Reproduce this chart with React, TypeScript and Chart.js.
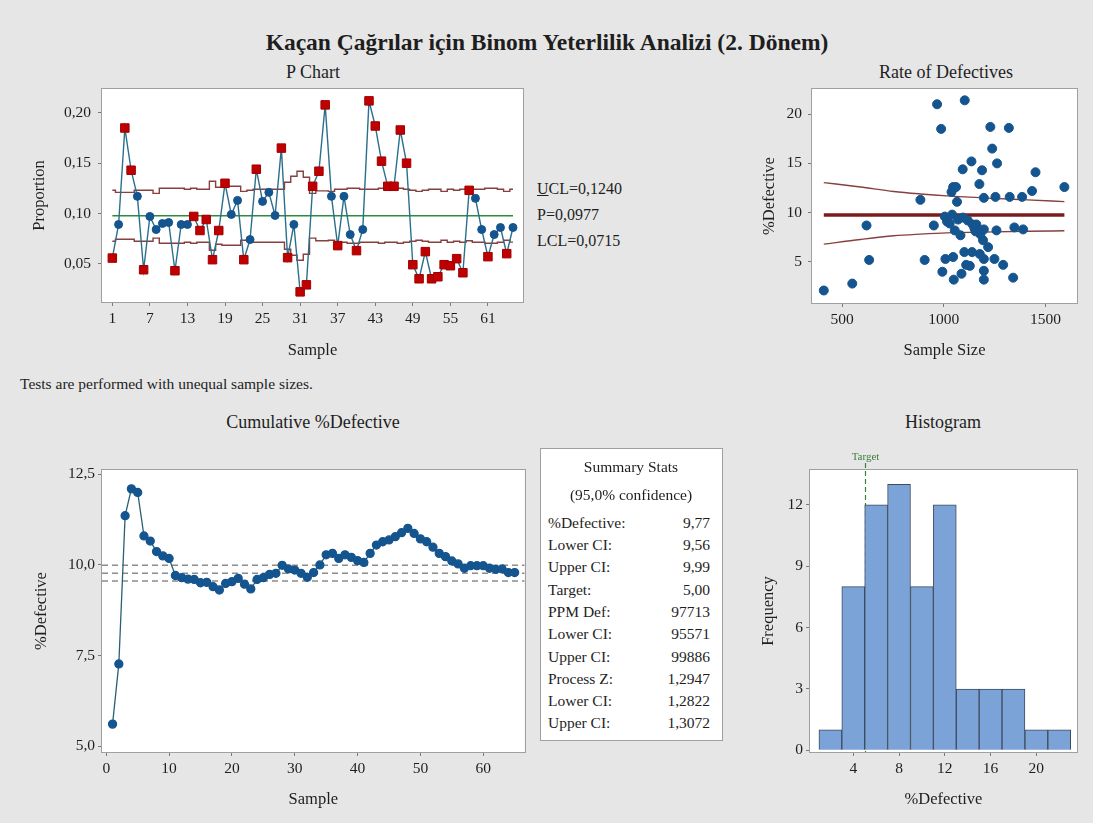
import React, { useEffect, useRef } from "react";
import { Chart, registerables } from "chart.js";

Chart.register(...registerables);

const SERIF = "'Liberation Serif', 'Times New Roman', Times, serif";
const TEXT = "#1e1e1e";

// ---------- P chart ----------
const pValues = [
  0.0556, 0.089, 0.185, 0.143, 0.117, 0.044, 0.097, 0.084, 0.09, 0.091,
  0.043, 0.089, 0.089, 0.097, 0.083, 0.094, 0.054, 0.083, 0.13, 0.099,
  0.113, 0.054, 0.074, 0.144, 0.112, 0.121, 0.098, 0.165, 0.056, 0.089,
  0.022, 0.029, 0.127, 0.142, 0.208, 0.117, 0.068, 0.117, 0.079, 0.063,
  0.084, 0.212, 0.187, 0.152, 0.127, 0.127, 0.183, 0.15, 0.049, 0.035,
  0.062, 0.035, 0.037, 0.049, 0.048, 0.055, 0.041, 0.123, 0.115, 0.084,
  0.057, 0.079, 0.086, 0.06, 0.086,
];
const uclValues = [
  0.123, 0.121, 0.121, 0.121, 0.123, 0.123, 0.123, 0.12, 0.125, 0.125,
  0.125, 0.125, 0.124, 0.125, 0.124, 0.124, 0.132, 0.126, 0.127, 0.127,
  0.127, 0.122, 0.123, 0.124, 0.124, 0.124, 0.124, 0.124, 0.131, 0.137,
  0.142, 0.136, 0.12, 0.1225, 0.1225, 0.122, 0.124, 0.124, 0.125, 0.125,
  0.124, 0.124, 0.124, 0.125, 0.124, 0.124, 0.125, 0.124, 0.123, 0.122,
  0.123, 0.124, 0.124, 0.122, 0.124, 0.123, 0.124, 0.1225, 0.124, 0.124,
  0.125, 0.125, 0.124, 0.122, 0.124,
];
const lclValues = [
  0.0724, 0.0744, 0.0744, 0.0744, 0.0724, 0.0724, 0.0724, 0.0754, 0.0704, 0.0704,
  0.0704, 0.0704, 0.0714, 0.0704, 0.0714, 0.0714, 0.0634, 0.0694, 0.0684, 0.0684,
  0.0684, 0.0734, 0.0724, 0.0714, 0.0714, 0.0714, 0.0714, 0.0714, 0.0644, 0.0584,
  0.0534, 0.0594, 0.0754, 0.0729, 0.0729, 0.0734, 0.0714, 0.0714, 0.0704, 0.0704,
  0.0714, 0.0714, 0.0714, 0.0704, 0.0714, 0.0714, 0.0704, 0.0714, 0.0724, 0.0734,
  0.0724, 0.0714, 0.0714, 0.0734, 0.0714, 0.0724, 0.0714, 0.0729, 0.0714, 0.0714,
  0.0704, 0.0704, 0.0714, 0.0734, 0.0715,
];
const flaggedSamples = [
  1, 3, 4, 6, 11, 14, 15, 16, 17, 18, 19, 22, 24, 28, 29, 31, 32, 33, 34, 35,
  37, 40, 42, 43, 44, 45, 46, 47, 48, 49, 50, 51, 52, 53, 54, 55, 56, 57, 58, 61, 64,
];
const pBar = 0.0977;
const pYTicks = [0.05, 0.1, 0.15, 0.2];
const sampleTicks = [1, 7, 13, 19, 25, 31, 37, 43, 49, 55, 61];
const samples = pValues.map((_, i) => i + 1);

// ---------- Rate of defectives ----------
const rateN = [
  410, 550, 620, 633, 885, 906, 951, 967, 987, 993, 1005, 1008, 1016, 1029, 1038,
  1041, 1046, 1049, 1046, 1060, 1054, 1065, 1082, 1087, 1093, 1095, 1103, 1101,
  1110, 1118, 1128, 1136, 1139, 1142, 1151, 1156, 1175, 1177, 1180, 1188, 1193,
  1197, 1197, 1197, 1197, 1197, 1218, 1229, 1238, 1249, 1254, 1259, 1262, 1292,
  1320, 1324, 1341, 1347, 1385, 1390, 1434, 1451, 1593, 1070, 1160,
];
const ratePct = [
  2.1, 2.8, 8.7, 5.2, 11.3, 5.2, 8.7, 21.0, 18.5, 4.0, 9.6, 5.3, 9.1, 8.9, 12.1,
  9.8, 5.5, 3.2, 12.6, 12.6, 8.2, 11.1, 7.7, 3.8, 14.4, 9.5, 21.4, 6.0, 4.7, 9.2,
  4.6, 15.2, 6.0, 8.8, 8.4, 8.1, 12.9, 5.8, 7.8, 14.3, 7.2, 11.5, 8.3, 5.3, 4.1,
  3.2, 6.5, 18.7, 16.5, 5.3, 11.6, 8.2, 15.0, 4.7, 18.6, 11.6, 3.4, 8.5, 11.6, 8.3,
  12.2, 14.1, 12.6, 9.3, 8.8,
];
const limitN = [410, 590, 754, 885, 1016, 1246, 1410, 1593];
const limitUpper = [13.05, 12.6, 12.15, 11.9, 11.7, 11.45, 11.3, 11.12];
const limitLower = [6.8, 7.28, 7.65, 7.82, 7.95, 8.05, 8.11, 8.16];
const rateXTicks = [500, 1000, 1500];
const rateYTicks = [5, 10, 15, 20];

// ---------- Cumulative ----------
const cumPct = [
  5.61, 7.27, 11.36, 12.1, 12.0, 10.8, 10.66, 10.37, 10.25, 10.18,
  9.71, 9.65, 9.61, 9.6, 9.51, 9.52, 9.4, 9.31, 9.49, 9.54,
  9.63, 9.47, 9.34, 9.6, 9.65, 9.74, 9.77, 9.99, 9.89, 9.86,
  9.77, 9.66, 9.79, 10.0, 10.28, 10.32, 10.18, 10.28, 10.21, 10.12,
  10.07, 10.32, 10.55, 10.64, 10.69, 10.78, 10.89, 11.01, 10.87, 10.72,
  10.64, 10.49, 10.32, 10.23, 10.11, 10.03, 9.91, 9.98, 9.98, 9.98,
  9.91, 9.88, 9.89, 9.79, 9.79,
];
const pctDefective = 9.77;
const ciLower = 9.56;
const ciUpper = 9.99;
const cumYTicks = [5, 7.5, 10, 12.5];
const cumXTicks = [0, 10, 20, 30, 40, 50, 60];

// ---------- Histogram ----------
const binCenters = [2, 4, 6, 8, 10, 12, 14, 16, 18, 20, 22];
const binCounts = [1, 8, 12, 13, 8, 12, 3, 3, 3, 1, 1];
const targetPct = 5;
const histXTicks = [4, 8, 12, 16, 20];
const histYTicks = [0, 3, 6, 9, 12];

// ---------- Summary ----------
const summaryLabels = [
  "%Defective:", "Lower CI:", "Upper CI:", "Target:", "PPM Def:",
  "Lower CI:", "Upper CI:", "Process Z:", "Lower CI:", "Upper CI:",
];
const summaryValues = [
  "9,77", "9,56", "9,99", "5,00", "97713", "95571", "99886", "1,2947", "1,2822", "1,3072",
];

const comma = (d: number) => (v: number) => v.toFixed(d).replace(".", ",");

const framePlugin = {
  id: "frame",
  beforeDraw(chart: any) {
    const { ctx, chartArea } = chart;
    const { left, top, right, bottom } = chartArea;
    ctx.save();
    ctx.fillStyle = "#ffffff";
    ctx.fillRect(left, top, right - left, bottom - top);
    ctx.restore();
  },
  afterDraw(chart: any) {
    const { ctx, chartArea } = chart;
    const { left, top, right, bottom } = chartArea;
    ctx.save();
    ctx.strokeStyle = "#a0a0a0";
    ctx.lineWidth = 1;
    ctx.strokeRect(Math.round(left) - 0.5, Math.round(top) - 0.5, Math.round(right - left) + 1, Math.round(bottom - top) + 1);
    ctx.restore();
  },
};

const targetPlugin = {
  id: "target",
  beforeDatasetsDraw(chart: any) {
    const { ctx, chartArea, scales } = chart;
    const x = Math.round(scales.x.getPixelForValue(targetPct)) + 0.5;
    ctx.save();
    ctx.strokeStyle = "#3d7f3d";
    ctx.lineWidth = 1.2;
    ctx.setLineDash([5, 3]);
    ctx.beginPath();
    ctx.moveTo(x, chartArea.top - 7);
    ctx.lineTo(x, chartArea.bottom);
    ctx.stroke();
    ctx.setLineDash([]);
    ctx.fillStyle = "#3d7f3d";
    ctx.font = `11px ${SERIF}`;
    ctx.textAlign = "center";
    ctx.textBaseline = "bottom";
    ctx.fillText("Target", x, chartArea.top - 7);
    ctx.restore();
  },
};

function axis(o: {
  min: number; max: number; ticks: number[]; fmt?: (v: number) => string;
  title: string; size: number; horizontal: boolean; pad?: number;
}) {
  return {
    type: "linear",
    min: o.min,
    max: o.max,
    offset: false,
    afterBuildTicks: (s: any) => {
      s.ticks = o.ticks.map((v) => ({ value: v }));
    },
    afterFit: (s: any) => {
      if (o.horizontal) s.height = o.size;
      else s.width = o.size;
      s.paddingTop = 0;
      s.paddingBottom = 0;
      s.paddingLeft = 0;
      s.paddingRight = 0;
    },
    ticks: {
      autoSkip: false,
      maxRotation: 0,
      padding: o.pad ?? 4,
      color: TEXT,
      font: { family: SERIF, size: 15.5 },
      callback: (v: any) => (o.fmt ? o.fmt(Number(v)) : String(v)),
    },
    grid: { display: true, offset: false, drawOnChartArea: false, drawTicks: true, tickLength: 4, color: "#7a7a7a" },
    border: { display: false },
    title: { display: true, text: o.title, color: TEXT, font: { family: SERIF, size: 16.5 }, padding: { top: 4, bottom: 4 } },
  };
}

function baseOptions(padding: any) {
  return {
    responsive: false,
    maintainAspectRatio: false,
    animation: false,
    devicePixelRatio: 1,
    events: [],
    layout: { padding },
    plugins: { legend: { display: false }, tooltip: { enabled: false } },
  };
}

function ChartBox(props: { left: number; top: number; width: number; height: number; config: any }) {
  const ref = useRef<HTMLCanvasElement>(null);
  useEffect(() => {
    const chart = new Chart(ref.current as HTMLCanvasElement, props.config);
    return () => chart.destroy();
  }, []);
  return (
    <canvas
      ref={ref}
      width={props.width}
      height={props.height}
      style={{ position: "absolute", left: props.left, top: props.top, width: props.width, height: props.height }}
    />
  );
}

function Label(props: { x: number; y: number; size?: number; align?: "left" | "center"; bold?: boolean; children: any }) {
  const size = props.size ?? 15;
  const lh = Math.round(size * 1.3);
  const center = (props.align ?? "center") === "center";
  return (
    <div
      style={{
        position: "absolute",
        left: center ? props.x - 400 : props.x,
        width: center ? 800 : undefined,
        top: props.y - lh / 2,
        height: lh,
        lineHeight: `${lh}px`,
        fontSize: size,
        fontFamily: SERIF,
        fontWeight: props.bold ? "bold" : "normal",
        textAlign: center ? "center" : "left",
        whiteSpace: "nowrap",
        color: TEXT,
      }}
    >
      {props.children}
    </div>
  );
}

export default function App() {
  const flagged = new Set(flaggedSamples);
  const isFlag = (c: any) => flagged.has(samples[c.dataIndex]);

  const pConfig = {
    type: "line",
    data: {
      datasets: [
        {
          label: "Proportion",
          data: samples.map((s, i) => ({ x: s, y: pValues[i] })),
          borderColor: "#2a6f8c",
          borderWidth: 1.4,
          pointStyle: (c: any) => (isFlag(c) ? "rect" : "circle"),
          pointRadius: (c: any) => (isFlag(c) ? 6 : 4),
          pointBackgroundColor: (c: any) => (isFlag(c) ? "#c00000" : "#14558f"),
          pointBorderColor: (c: any) => (isFlag(c) ? "#a00000" : "#14558f"),
          pointBorderWidth: 1,
        },
        {
          label: "P",
          data: [{ x: samples[0], y: pBar }, { x: samples[samples.length - 1], y: pBar }],
          borderColor: "#2f8a3a",
          borderWidth: 1.4,
          pointRadius: 0,
        },
        {
          label: "UCL",
          data: samples.map((s, i) => ({ x: s, y: uclValues[i] })),
          stepped: "middle",
          borderColor: "#86403f",
          borderWidth: 1.4,
          pointRadius: 0,
        },
        {
          label: "LCL",
          data: samples.map((s, i) => ({ x: s, y: lclValues[i] })),
          stepped: "middle",
          borderColor: "#86403f",
          borderWidth: 1.4,
          pointRadius: 0,
        },
      ],
    },
    options: {
      ...baseOptions({ top: 9, right: 6, left: 0, bottom: 0 }),
      scales: {
        x: axis({ min: -0.65, max: 66.6, ticks: sampleTicks, title: "Sample", size: 63, horizontal: true, pad: 4 }),
        y: axis({ min: 0.0119, max: 0.2238, ticks: pYTicks, fmt: comma(2), title: "Proportion", size: 76, horizontal: false, pad: 7 }),
      },
    },
    plugins: [framePlugin],
  };

  const rateConfig = {
    type: "scatter",
    data: {
      datasets: [
        {
          label: "Samples",
          data: rateN.map((n, i) => ({ x: n, y: ratePct[i] })),
          pointRadius: 4.5,
          pointBackgroundColor: "#15558f",
          pointBorderColor: "#15558f",
          showLine: false,
        },
        {
          label: "Center",
          type: "line",
          data: [{ x: limitN[0], y: pctDefective }, { x: limitN[limitN.length - 1], y: pctDefective }],
          borderColor: "#7a1c1c",
          borderWidth: 3.5,
          pointRadius: 0,
        },
        {
          label: "Upper",
          type: "line",
          data: limitN.map((n, i) => ({ x: n, y: limitUpper[i] })),
          borderColor: "#86403f",
          borderWidth: 1.4,
          pointRadius: 0,
          cubicInterpolationMode: "monotone",
        },
        {
          label: "Lower",
          type: "line",
          data: limitN.map((n, i) => ({ x: n, y: limitLower[i] })),
          borderColor: "#86403f",
          borderWidth: 1.4,
          pointRadius: 0,
          cubicInterpolationMode: "monotone",
        },
      ],
    },
    options: {
      ...baseOptions({ top: 9, right: 8, left: 0, bottom: 0 }),
      scales: {
        x: axis({ min: 352, max: 1655, ticks: rateXTicks, title: "Sample Size", size: 62, horizontal: true, pad: 4 }),
        y: axis({ min: 0.83, max: 22.55, ticks: rateYTicks, fmt: undefined, title: "%Defective", size: 56, horizontal: false, pad: 6 }),
      },
    },
    plugins: [framePlugin],
  };

  const cumX0 = -0.68;
  const cumX1 = 66.6;
  const dashed = (v: number, label: string) => ({
    label,
    data: [{ x: cumX0, y: v }, { x: cumX1, y: v }],
    borderColor: "#8c8c8c",
    borderWidth: 1.5,
    borderDash: [6, 4],
    pointRadius: 0,
  });
  const cumConfig = {
    type: "line",
    data: {
      datasets: [
        {
          label: "Cumulative",
          data: samples.map((s, i) => ({ x: s, y: cumPct[i] })),
          borderColor: "#2a5f73",
          borderWidth: 1.3,
          pointRadius: 4,
          pointBackgroundColor: "#15558f",
          pointBorderColor: "#15558f",
        },
        dashed(ciUpper, "Upper CI"),
        dashed(pctDefective, "%Defective"),
        dashed(ciLower, "Lower CI"),
      ],
    },
    options: {
      ...baseOptions({ top: 25, right: 5, left: 0, bottom: 0 }),
      scales: {
        x: axis({ min: cumX0, max: cumX1, ticks: cumXTicks, title: "Sample", size: 62, horizontal: true, pad: 4 }),
        y: axis({ min: 4.84, max: 12.62, ticks: cumYTicks, fmt: comma(1), title: "%Defective", size: 74, horizontal: false, pad: 3 }),
      },
    },
    plugins: [framePlugin],
  };

  const histConfig = {
    type: "bar",
    data: {
      datasets: [
        {
          label: "Frequency",
          data: binCenters.map((c, i) => ({ x: c, y: binCounts[i] })),
          backgroundColor: "#7ba3d7",
          borderColor: "#3d4b5c",
          borderWidth: 1,
          barPercentage: 1,
          categoryPercentage: 1,
        },
      ],
    },
    options: {
      ...baseOptions({ top: 25, right: 8, left: 0, bottom: 0 }),
      scales: {
        x: axis({ min: 0.22, max: 23.55, ticks: histXTicks, title: "%Defective", size: 62, horizontal: true, pad: 4 }),
        y: axis({ min: -0.08, max: 13.7, ticks: histYTicks, title: "Frequency", size: 55, horizontal: false, pad: 3 }),
      },
    },
    plugins: [framePlugin, targetPlugin],
  };

  const rowTop = 522.7;
  const rowStep = 22.3;

  return (
    <div style={{ position: "absolute", left: 0, top: 0, width: 1093, height: 823, background: "#e6e6e6", overflow: "hidden" }}>
      <Label x={547} y={42} size={23.5} bold>
        Kaçan Çağrılar için Binom Yeterlilik Analizi (2. Dönem)
      </Label>
      <Label x={313} y={72} size={18}>P Chart</Label>
      <Label x={946} y={72} size={18}>Rate of Defectives</Label>
      <Label x={313} y={422} size={18}>Cumulative %Defective</Label>
      <Label x={943} y={422} size={18}>Histogram</Label>
      <Label x={20} y={384} size={15.5} align="left">Tests are performed with unequal sample sizes.</Label>

      <ChartBox left={26} top={80} width={504} height={285} config={pConfig} />
      <ChartBox left={756} top={80} width={329} height={285} config={rateConfig} />
      <ChartBox left={28} top={445} width={502} height={369} config={cumConfig} />
      <ChartBox left={755} top={445} width={330} height={369} config={histConfig} />

      <Label x={537} y={188} size={16} align="left">
        <span style={{ textDecoration: "underline" }}>U</span>CL=0,1240
      </Label>
      <Label x={537} y={214} size={16} align="left">P=0,0977</Label>
      <Label x={537} y={240} size={16} align="left">LCL=0,0715</Label>

      <div
        style={{
          position: "absolute",
          left: 540,
          top: 448,
          width: 181,
          height: 291,
          background: "#ffffff",
          border: "1px solid #a0a0a0",
        }}
      />
      <Label x={631} y={467} size={15.5}>Summary Stats</Label>
      <Label x={631} y={495} size={15.5}>(95,0% confidence)</Label>
      {summaryLabels.map((lab, i) => (
        <Label key={"l" + i} x={548} y={rowTop + i * rowStep} size={15.5} align="left">{lab}</Label>
      ))}
      {summaryValues.map((val, i) => (
        <div
          key={"v" + i}
          style={{
            position: "absolute",
            left: 610,
            width: 100,
            top: rowTop + i * rowStep - 10,
            height: 20,
            lineHeight: "20px",
            fontSize: 15.5,
            fontFamily: SERIF,
            textAlign: "right",
            color: TEXT,
          }}
        >
          {val}
        </div>
      ))}
    </div>
  );
}
